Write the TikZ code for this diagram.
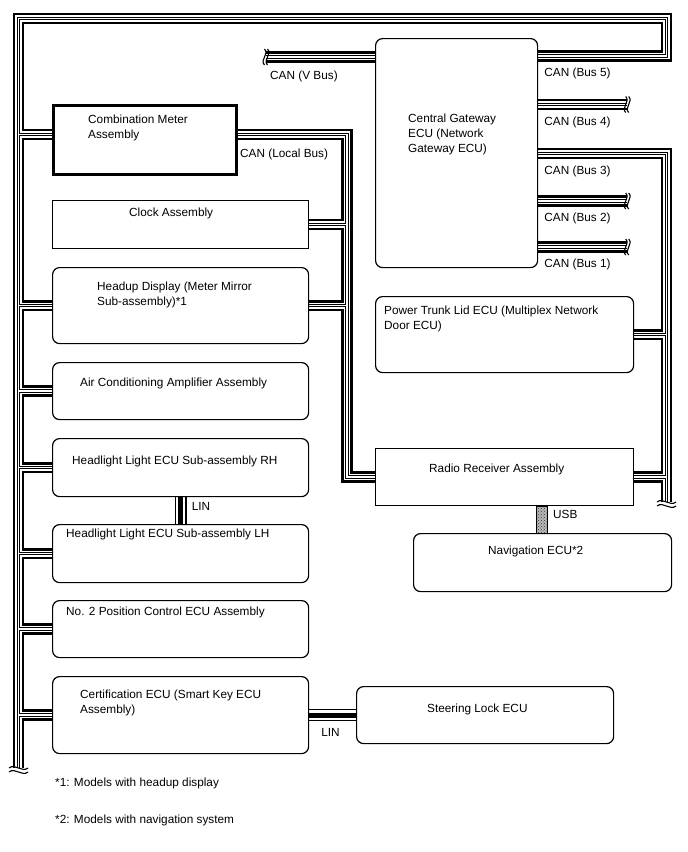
\documentclass[tikz,border=0pt]{standalone}
\usepackage{fontspec}
\setmainfont{Liberation Sans}
\usetikzlibrary{backgrounds, patterns}

\begin{document}
\begin{tikzpicture}[x=1pt, y=-1pt, font=\fontsize{11.8}{15}\selectfont]
        \tikzset{ecu/.style={draw, fill=white, line width=1.2pt, rounded corners=7pt, anchor=north west, inner sep=0pt}}
        \tikzset{ecusq/.style={ecu, sharp corners}}
        \tikzset{txt/.style={anchor=north west, inner sep=0pt, align=left}}
        \tikzset{canlayer/.style 2 args={line width=#1pt, draw=#2}}
        \tikzset{lin/.style={line width=5.2pt, preaction={draw, line width=12pt}, preaction={draw, white, line width=9.6pt}}}
        \tikzset{brk/.style={line width=1.1pt}}

        \useasboundingbox (0,0) rectangle (688,852);

        % left column
        \node[ecusq, line width=3pt, minimum width=183pt, minimum height=69pt] (cmeter) at (52,104) {};
        \node[ecusq, line width=1pt, minimum width=256pt, minimum height=48pt] (clock) at (52,200) {};
        \node[ecu, minimum width=256pt, minimum height=76pt] (hud) at (52,267) {};
        \node[ecu, minimum width=256pt, minimum height=57pt] (aircon) at (52,362) {};
        \node[ecu, minimum width=256pt, minimum height=58pt] (hlrh) at (52,438) {};
        \node[ecu, minimum width=256pt, minimum height=58pt] (hllh) at (52,524) {};
        \node[ecu, minimum width=256pt, minimum height=57pt] (poscont) at (52,600) {};
        \node[ecu, minimum width=256pt, minimum height=77pt] (cert) at (52,676) {};

        % right column
        \node[ecu, minimum width=162pt, minimum height=229pt] (cgw) at (375,38) {};
        \node[ecu, minimum width=258pt, minimum height=76pt] (ptrunk) at (375,296) {};
        \node[ecusq, minimum width=258pt, minimum height=57pt] (radio) at (375,448) {};
        \node[ecu, minimum width=258pt, minimum height=58pt] (navi) at (413,533) {};
        \node[ecu, minimum width=257pt, minimum height=57pt] (steer) at (356,686) {};

        % box texts
        \node[txt] (cmetertxt) at ([shift={(36,11)}]cmeter.north west) {Combination Meter\\Assembly};
        \node[txt] (clocktxt) at ([shift={(77,8)}]clock.north west) {Clock Assembly};
        \node[txt] (hudtxt) at ([shift={(45,15)}]hud.north west) {Headup Display (Meter Mirror\\Sub-assembly)*1};
        \node[txt] (aircontxt) at ([shift={(28,16)}]aircon.north west) {Air Conditioning Amplifier Assembly};
        \node[txt] (hlrhtxt) at ([shift={(20,18)}]hlrh.north west) {Headlight Light ECU Sub-assembly RH};
        \node[txt] (hllhtxt) at ([shift={(14,5)}]hllh.north west) {Headlight Light ECU Sub-assembly LH};
        \node[txt] (poscontxt) at ([shift={(14,7)}]poscont.north west) {No. 2 Position Control ECU Assembly};
        \node[txt] (certtxt) at ([shift={(28,14)}]cert.north west) {Certification ECU (Smart Key ECU\\Assembly)};
        \node[txt] (cgwtxt) at ([shift={(33,76)}]cgw.north west) {Central Gateway\\ECU (Network\\Gateway ECU)};
        \node[txt] (ptrunktxt) at ([shift={(9,10)}]ptrunk.north west) {Power Trunk Lid ECU (Multiplex Network\\Door ECU)};
        \node[txt] (radiotxt) at ([shift={(54,16)}]radio.north west) {Radio Receiver Assembly};
        \node[txt] (navitxt) at ([shift={(75,13)}]navi.north west) {Navigation ECU*2};
        \node[txt] (steertxt) at ([shift={(71,18)}]steer.north west) {Steering Lock ECU};

        % bus points
        \coordinate (pv) at ([shift={(0,19)}]cgw.north west);
        \coordinate (vcut) at ([shift={(-109,0)}]pv);
        \coordinate (p5) at ([shift={(0,18)}]cgw.north east);
        \coordinate (p4) at ([shift={(0,66.5)}]cgw.north east);
        \coordinate (p3) at ([shift={(0,115.5)}]cgw.north east);
        \coordinate (p2) at ([shift={(0,163)}]cgw.north east);
        \coordinate (p1) at ([shift={(0,209)}]cgw.north east);
        \coordinate (s4) at ([shift={(89,0)}]p4);
        \coordinate (s2) at ([shift={(89,0)}]p2);
        \coordinate (s1) at ([shift={(89,0)}]p1);
        \coordinate (vtl) at (18.5,18.5);
        \coordinate (vtr) at (666.5,18.5);
        \coordinate (vend) at (18.5,768);
        \coordinate (b3end) at (666.5,502);
        \coordinate (cmin) at ([shift={(0,-5.5)}]cmeter.west);
        \coordinate (cmout) at ([shift={(0,-5.5)}]cmeter.east);
        \coordinate (lbus) at ([shift={(109,0)}]cmout);
        \coordinate (usba) at ([shift={(161,0)}]radio.south west);
        \coordinate (usbb) at ([shift={(172,0)}]radio.south west |- navi.north);

        \begin{pgfonlayer}{background}
        \foreach \w/\c in {11.6/black, 6.2/white, 3.4/black, 1.4/white}
          \draw[canlayer={\w}{\c}]
            (p5) -| (vtr) -| (vend)
            (pv) -- (vcut)
            (cmin) -- (cmin -| vtl)
            (hud.west) -- (hud.west -| vtl)
            (aircon.west) -- (aircon.west -| vtl)
            (hlrh.west) -- (hlrh.west -| vtl)
            (hllh.west) -- (hllh.west -| vtl)
            (poscont.west) -- (poscont.west -| vtl)
            (cert.west) -- (cert.west -| vtl)
            (cmout) -- (lbus) |- (radio.west)
            (clock.east) -- (clock.east -| lbus)
            (hud.east) -- (hud.east -| lbus)
            (p3) -| (b3end)
            (ptrunk.east) -- (ptrunk.east -| b3end)
            (radio.east) -- (radio.east -| b3end)
            (p4) -- (s4)
            (p2) -- (s2)
            (p1) -- (s1);

        \draw[lin] (hlrh.south) -- (hllh.north);
        \draw[lin] (cert.east) -- (steer.west);
        \draw[line width=0.8pt, preaction={fill=gray!55}, pattern=crosshatch dots, pattern color=black!80] (usba) rectangle (usbb);
        \end{pgfonlayer}

        % breaks
        \foreach \c in {vcut, s4, s2, s1}
          \foreach \dx in {-1.5, 1.5}
            \draw[brk] ([shift={(\dx,-8)}]\c) .. controls +(5,5) and +(-5,-5) .. ([shift={(\dx,8)}]\c);
        \foreach \c in {vend, b3end}
          \foreach \dy in {0, 4}
            \draw[brk] ([shift={(-9.5,\dy)}]\c) .. controls +(6,-5) and +(-6,5) .. ([shift={(9.5,\dy)}]\c);

        % bus labels
        \node[txt] (vbus) at ([shift={(4,14)}]vcut) {CAN (V Bus)};
        \node[txt] (localbus) at ([shift={(2,14)}]cmout) {CAN (Local Bus)};
        \foreach \n in {5,4,3,2,1}
          \node[txt] (bus\n) at ([shift={(6,12)}]p\n) {CAN (Bus \n)};
        \node[txt] (linhl) at ([shift={(11,5)}]hlrh.south) {LIN};
        \node[txt] (lincert) at ([shift={(12,13.5)}]cert.east) {LIN};
        \node[txt] (usb) at ([shift={(178,4)}]radio.south west) {USB};

        % notes
        \node[txt] (note1) at (55,778) {*1: Models with headup display};
        \node[txt] (note2) at (55,815) {*2: Models with navigation system};
    \end{tikzpicture}
\end{document}
